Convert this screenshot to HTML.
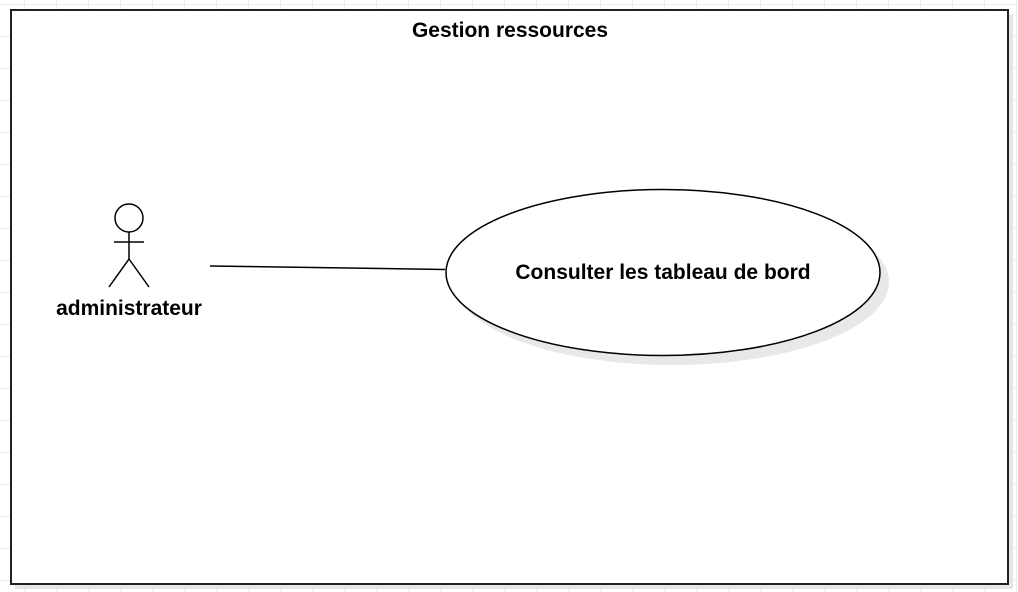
<!DOCTYPE html>
<html><head><style>
body{margin:0;width:1018px;height:592px;overflow:hidden;background:#fff;
background-image:linear-gradient(to right,#ececec 1px,transparent 1px),linear-gradient(to bottom,#ececec 1px,transparent 1px);
background-size:32px 32px;background-position:24px 4px;font-family:"Liberation Sans",sans-serif;}
</style></head><body>
<svg width="1018" height="592" style="position:absolute;left:0;top:0">
<rect x="15" y="14" width="998" height="575" fill="#e6e6e6"/>
<rect x="11" y="10" width="997" height="574" fill="#fff" stroke="#222" stroke-width="2"/>
<text x="510" y="37" text-anchor="middle" font-weight="bold" font-size="21" font-family="Liberation Sans">Gestion ressources</text>
<circle cx="129" cy="218" r="14" fill="#fff" stroke="#000" stroke-width="1.5"/>
<line x1="129" y1="232" x2="129" y2="259" stroke="#000" stroke-width="1.5"/>
<line x1="114" y1="242" x2="144" y2="242" stroke="#000" stroke-width="1.5"/>
<line x1="129" y1="259" x2="109" y2="287" stroke="#000" stroke-width="1.5"/>
<line x1="129" y1="259" x2="149" y2="287" stroke="#000" stroke-width="1.5"/>
<text x="129" y="315" text-anchor="middle" font-weight="bold" font-size="21" font-family="Liberation Sans">administrateur</text>
<line x1="210" y1="266" x2="445" y2="269.5" stroke="#000" stroke-width="1.5"/>
<ellipse cx="672" cy="282" rx="217" ry="83" fill="#e8e8e8"/>
<ellipse cx="663" cy="272.5" rx="217" ry="83" fill="#fff" stroke="#000" stroke-width="1.5"/>
<text x="663" y="279" text-anchor="middle" font-weight="bold" font-size="21" font-family="Liberation Sans">Consulter les tableau de bord</text>
</svg>
</body></html>
